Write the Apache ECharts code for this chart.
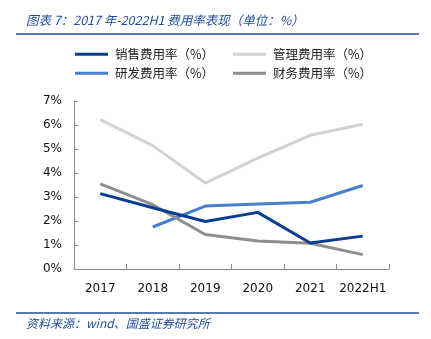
<!DOCTYPE html>
<html><head><meta charset="utf-8">
<script src="https://cdn.jsdelivr.net/npm/echarts@6/dist/echarts.min.js"></script>
<style>html,body{margin:0;padding:0;background:#fff}#c{width:431px;height:339px}</style>
</head><body><div id="c"></div>
<script>
const categories = ['2017','2018','2019','2020','2021','2022H1'];
const yTicks = [0,1,2,3,4,5,6,7];
const sales = [3.14, 2.55, 1.98, 2.36, 1.08, 1.37];
const admin = [6.22, 5.14, 3.58, 4.62, 5.57, 6.03];
const rnd = [null, 1.75, 2.62, 2.71, 2.78, 3.48];
const finance = [3.55, 2.68, 1.44, 1.17, 1.07, 0.60];
const names = ['销售费用率（%）','管理费用率（%）','研发费用率（%）','财务费用率（%）'];
const colors = ['#0a3d8f','#d2d2d2','#4a7fcc','#8e8e8e'];
const titleText = '图表 7：2017 年-2022H1 费用率表现（单位：%）';
const sourceText = '资料来源：wind、国盛证券研究所';

const chart = echarts.init(document.getElementById('c'));
const font = 'DejaVu Sans, Noto Sans CJK SC, sans-serif';
const cjk = 'Noto Sans CJK SC, sans-serif';
const legendPos = [[75,48],[233,48],[75,67],[233,67]];
const legends = names.map((n,i)=>({
  data:[n], left:legendPos[i][0], top:legendPos[i][1], icon:'rect',
  itemWidth:33, itemHeight:3, itemGap:0, padding:0,
  textStyle:{fontFamily:cjk,fontSize:12.5,color:'#222',padding:[0,0,0,2]}
}));
const seriesData = [sales, admin, rnd, finance];
chart.setOption({
  animation:false,
  legend: legends,
  grid:{left:74,right:42,top:101,bottom:70,containLabel:false},
  xAxis:{type:'category',data:categories,boundaryGap:true,
    axisLine:{lineStyle:{color:'#888',width:1}},
    axisTick:{show:true,inside:true,length:5,interval:0,lineStyle:{color:'#888'}},
    axisLabel:{fontFamily:font,fontSize:12,color:'#111',margin:14,interval:0}},
  yAxis:{type:'value',min:0,max:7,interval:1,
    axisLine:{show:true,lineStyle:{color:'#888',width:1}},
    axisTick:{show:true,inside:true,length:4,lineStyle:{color:'#888'}},
    splitLine:{show:false},
    axisLabel:{fontFamily:font,fontSize:12,color:'#111',margin:12,formatter:v=>v+'%'}},
  series: seriesData.map((d,i)=>({
    name:names[i], type:'line', data:d, showSymbol:false, symbol:'none',
    lineStyle:{color:colors[i],width:3}, itemStyle:{color:colors[i]}, z: i===0?5:3
  })),
  graphic:[
    {type:'text',left:26,top:14,style:{text:titleText,fontFamily:cjk,fontSize:12.5,fontStyle:'italic',fontWeight:'normal',fill:'#1f4e9a'}},
    {type:'line',shape:{x1:16,y1:34,x2:419,y2:34},style:{stroke:'#1f4e9a',lineWidth:1.5}},
    {type:'line',shape:{x1:16,y1:313,x2:419,y2:313},style:{stroke:'#1f4e9a',lineWidth:1.5}},
    {type:'text',left:26,top:317,style:{text:sourceText,fontFamily:cjk,fontSize:12,fontStyle:'italic',fill:'#1f4e9a'}}
  ]
});
</script></body></html>
